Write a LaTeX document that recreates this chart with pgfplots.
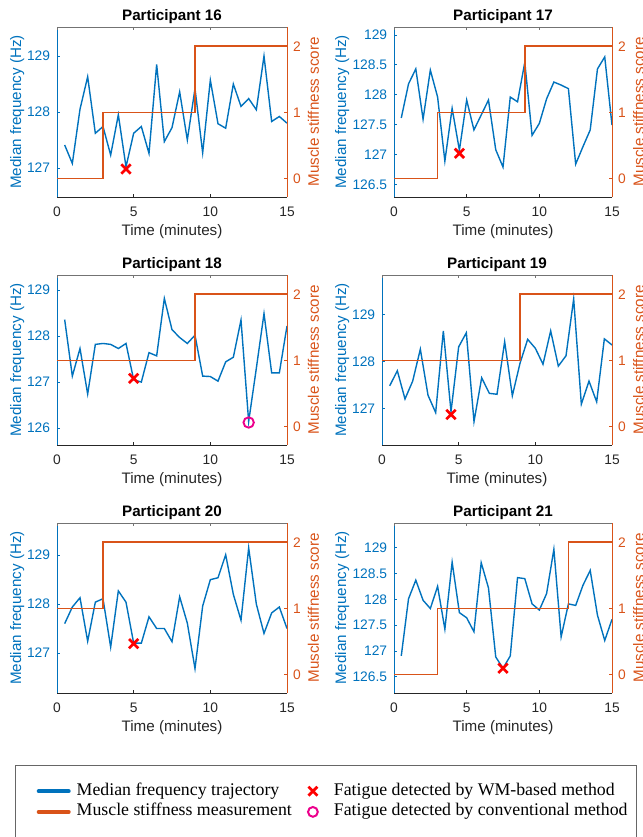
\documentclass[border=0pt]{standalone}
\usepackage{fontspec}
\setmainfont{Liberation Sans}
\newfontfamily\legfont{Liberation Serif}
\usepackage{pgfplots}
\pgfplotsset{compat=1.18}
\usepackage{pgfplotstable}
\definecolor{mblue}{rgb}{0,0.447,0.741}
\definecolor{morange}{rgb}{0.85,0.325,0.098}
\definecolor{mgray}{rgb}{0.15,0.15,0.15}

\pgfplotstableread{
t p16 p17 p18 p19 p20 p21
0.5 127.41 127.61 128.36 127.48 127.60 126.90
1.0 127.08 128.18 127.13 127.80 127.94 128.01
1.5 128.05 128.43 127.73 127.20 128.13 128.37
2.0 128.63 127.59 126.74 127.58 127.24 127.98
2.5 127.62 128.41 127.82 128.26 128.04 127.82
3.0 127.74 127.96 127.84 127.28 128.11 128.25
3.5 127.23 126.89 127.82 126.91 127.12 127.42
4.0 127.95 127.77 127.73 128.65 128.27 128.72
4.5 127.02 127.07 127.84 126.93 128.04 127.74
5.0 127.62 127.91 127.05 128.31 127.20 127.64
5.5 127.74 127.41 127.00 128.61 127.20 127.37
6.0 127.26 127.66 127.64 126.72 127.74 128.71
6.5 128.85 127.91 127.57 127.65 127.50 128.22
7.0 127.47 127.08 128.82 127.32 127.50 126.88
7.5 127.72 126.79 128.14 127.30 127.23 126.66
8.0 128.36 127.96 127.97 128.42 128.15 126.90
8.5 127.50 127.88 127.84 127.27 127.61 128.42
9.0 128.42 128.54 128.02 127.96 126.68 128.40
9.5 127.27 127.32 127.13 128.47 127.96 127.91
10.0 128.57 127.52 127.12 128.28 128.50 127.79
10.5 127.79 127.93 127.02 127.94 128.54 128.11
11.0 127.71 128.21 127.44 128.65 129.01 128.97
11.5 128.50 128.16 127.54 127.90 128.20 127.27
12.0 128.10 128.10 128.35 128.12 127.67 127.91
12.5 128.24 126.84 126.14 129.33 129.15 127.88
13.0 128.04 127.13 127.30 127.09 128.00 128.27
13.5 129.00 127.41 128.49 127.58 127.40 128.56
14.0 127.83 128.43 127.20 127.14 127.82 127.69
14.5 127.92 128.63 127.20 128.48 127.94 127.20
15.0 127.80 127.49 128.22 128.35 127.50 127.61
}\mf

\pgfplotsset{
  base/.style={scale only axis, height=170pt, anchor=south west,
    xmin=0, xmax=15, xtick={0,5,10,15}, tick align=inside, major tick length=3pt,
    tick label style={font=\fontsize{13.8}{14}\selectfont, /pgf/number format/assume math mode=true},
  },
  lefta/.style={base,
    axis x line*=bottom, axis y line*=left,
    xtick pos=left, ytick pos=left, xticklabel pos=left, yticklabel pos=left,
    x axis line style={-, mgray, line width=0.6pt},
    y axis line style={-, mblue, line width=0.6pt},
    xtick style={mgray, line width=0.5pt}, ytick style={mblue, line width=0.5pt},
    xticklabel style={mgray, anchor=base, inner sep=0pt, yshift=-19.7pt},
    yticklabel style={mblue, anchor=east, inner sep=0pt, xshift=-6.7pt},
    xlabel={Time (minutes)}, ylabel={Median frequency (Hz)},
    every axis x label/.style={at={(axis description cs:0.5,0)}, anchor=base, yshift=-38.5pt, mgray, font=\fontsize{15.2}{16}\selectfont},
    every axis y label/.style={at={(axis description cs:-0.1565,0.5)}, rotate=90, anchor=base, mblue, font=\fontsize{15.2}{16}\selectfont},
    every axis title/.style={at={(axis description cs:0.5,1)}, anchor=base, yshift=6.5pt, black, font=\bfseries\fontsize{15.2}{16}\selectfont},
  },
  righta/.style={base,
    axis x line*=top, axis y line*=right,
    xtick pos=right, ytick pos=right, yticklabel pos=right, xticklabels={},
    ymin=-0.28, ymax=2.29, ytick={0,1,2},
    x axis line style={-, black!55, line width=0.6pt},
    y axis line style={-, morange, line width=0.6pt},
    xtick style={black!55, line width=0.5pt}, ytick style={morange, line width=0.5pt},
    yticklabel style={morange, anchor=west, inner sep=0pt, xshift=6pt},
    ylabel={Muscle stiffness score},
    every axis y label/.style={at={(axis description cs:1.1391,0.5)}, rotate=90, anchor=base, morange, font=\fontsize{15.2}{16}\selectfont},
  },
  mfline/.style={mblue, line width=1.4pt},
  msline/.style={morange, line width=1.6pt, const plot},
  wmx/.style={only marks, mark=x, red, mark size=6.6pt, mark options={line width=2.7pt}},
  convo/.style={only marks, mark=o, magenta, mark size=5.2pt, mark options={line width=1.9pt}},
  legline/.style={legend image code/.code={\draw[##1] (2pt,0pt) -- (32pt,0pt);}},
  legmark/.style={legend image code/.code={\node[draw=none, fill=none, inner sep=0pt, minimum width=20pt, minimum height=1pt] at (10pt,0pt) {}; \draw[##1] plot coordinates {(15pt,0pt)};}},
}

\begin{document}
\begin{tikzpicture}
\useasboundingbox (0pt,0pt) rectangle (642pt,-837pt);

% ---------- Participant 16
\begin{axis}[lefta, at={(57pt,-197pt)}, width=230pt, ymin=126.48, ymax=129.52, ytick={127,128,129}, title={Participant 16}]
\addplot[mfline] table[x=t,y=p16]{\mf};
\addplot[wmx] coordinates {(4.5,126.98)};
\end{axis}
\begin{axis}[righta, at={(57pt,-197pt)}, width=230pt]
\addplot[msline] coordinates {(0,0)(3,1)(9,2)(15,2)};
\end{axis}

% ---------- Participant 17
\begin{axis}[lefta, at={(394pt,-197pt)}, width=218pt, ymin=126.29, ymax=129.13, ytick={126.5,127,127.5,128,128.5,129}, title={Participant 17},
  ylabel style={at={(axis description cs:-0.2202,0.5)}}]
\addplot[mfline] table[x=t,y=p17]{\mf};
\addplot[wmx] coordinates {(4.5,127.02)};
\end{axis}
\begin{axis}[righta, at={(394pt,-197pt)}, width=218pt, ylabel style={at={(axis description cs:1.1468,0.5)}}]
\addplot[msline] coordinates {(0,0)(3,1)(9,2)(15,2)};
\end{axis}

% ---------- Participant 18
\begin{axis}[lefta, at={(57pt,-445pt)}, width=230pt, ymin=125.63, ymax=129.33, ytick={126,127,128,129}, title={Participant 18}]
\addplot[mfline] table[x=t,y=p18]{\mf};
\addplot[wmx] coordinates {(5,127.08)};
\addplot[convo] coordinates {(12.5,126.12)};
\end{axis}
\begin{axis}[righta, at={(57pt,-445pt)}, width=230pt]
\addplot[msline] coordinates {(0,1)(9,2)(15,2)};
\end{axis}

% ---------- Participant 19
\begin{axis}[lefta, at={(382pt,-445pt)}, width=230pt, ymin=126.22, ymax=129.84, ytick={127,128,129}, title={Participant 19}]
\addplot[mfline] table[x=t,y=p19]{\mf};
\addplot[wmx] coordinates {(4.5,126.87)};
\end{axis}
\begin{axis}[righta, at={(382pt,-445pt)}, width=230pt]
\addplot[msline] coordinates {(0,1)(9,2)(15,2)};
\end{axis}

% ---------- Participant 20
\begin{axis}[lefta, at={(57pt,-693pt)}, width=230pt, ymin=126.18, ymax=129.66, ytick={127,128,129}, title={Participant 20}]
\addplot[mfline] table[x=t,y=p20]{\mf};
\addplot[wmx] coordinates {(5,127.19)};
\end{axis}
\begin{axis}[righta, at={(57pt,-693pt)}, width=230pt]
\addplot[msline] coordinates {(0,1)(3,2)(15,2)};
\end{axis}

% ---------- Participant 21
\begin{axis}[lefta, at={(394pt,-693pt)}, width=218pt, ymin=126.18, ymax=129.48, ytick={126.5,127,127.5,128,128.5,129}, title={Participant 21},
  ylabel style={at={(axis description cs:-0.2202,0.5)}}]
\addplot[mfline] table[x=t,y=p21]{\mf};
\addplot[wmx] coordinates {(7.5,126.66)};
\end{axis}
\begin{axis}[righta, at={(394pt,-693pt)}, width=218pt, ylabel style={at={(axis description cs:1.1468,0.5)}}]
\addplot[msline] coordinates {(0,0)(3,1)(12,2)(15,2)};
\end{axis}

% ---------- Legend
\draw[black!60, line width=0.8pt] (15pt,-765.7pt) rectangle (636pt,-880pt);
\begin{axis}[at={(0pt,-837pt)}, anchor=south west, scale only axis, width=642pt, height=837pt,
  hide axis, xmin=0, xmax=1, ymin=0, ymax=1,
  legend columns=2, legend cell align=left,
  legend style={at={(axis description cs:0.05717,0.0643)}, anchor=north west,
    draw=none, fill=none, inner sep=0pt, outer sep=0pt,
    font=\legfont\fontsize{17.8}{20}\selectfont, row sep=4.7pt,
    nodes={inner sep=0pt, text height=12pt, text depth=4pt},
    /tikz/every odd column/.style={column sep=6pt},
    /tikz/every even column/.style={column sep=16pt},
    /tikz/column 3/.style={column sep=-3pt}}]
\addlegendimage{mblue, line width=4pt, line cap=round, legline}
\addlegendentry{Median frequency trajectory}
\addlegendimage{only marks, mark=x, red, mark size=6.3pt, mark options={line width=2.7pt}, legmark}
\addlegendentry{Fatigue detected by WM-based method}
\addlegendimage{morange, line width=4pt, line cap=round, legline}
\addlegendentry{Muscle stiffness measurement}
\addlegendimage{only marks, mark=o, magenta, mark size=4.9pt, mark options={line width=2pt}, legmark}
\addlegendentry{Fatigue detected by conventional method}
\end{axis}
\end{tikzpicture}
\end{document}
